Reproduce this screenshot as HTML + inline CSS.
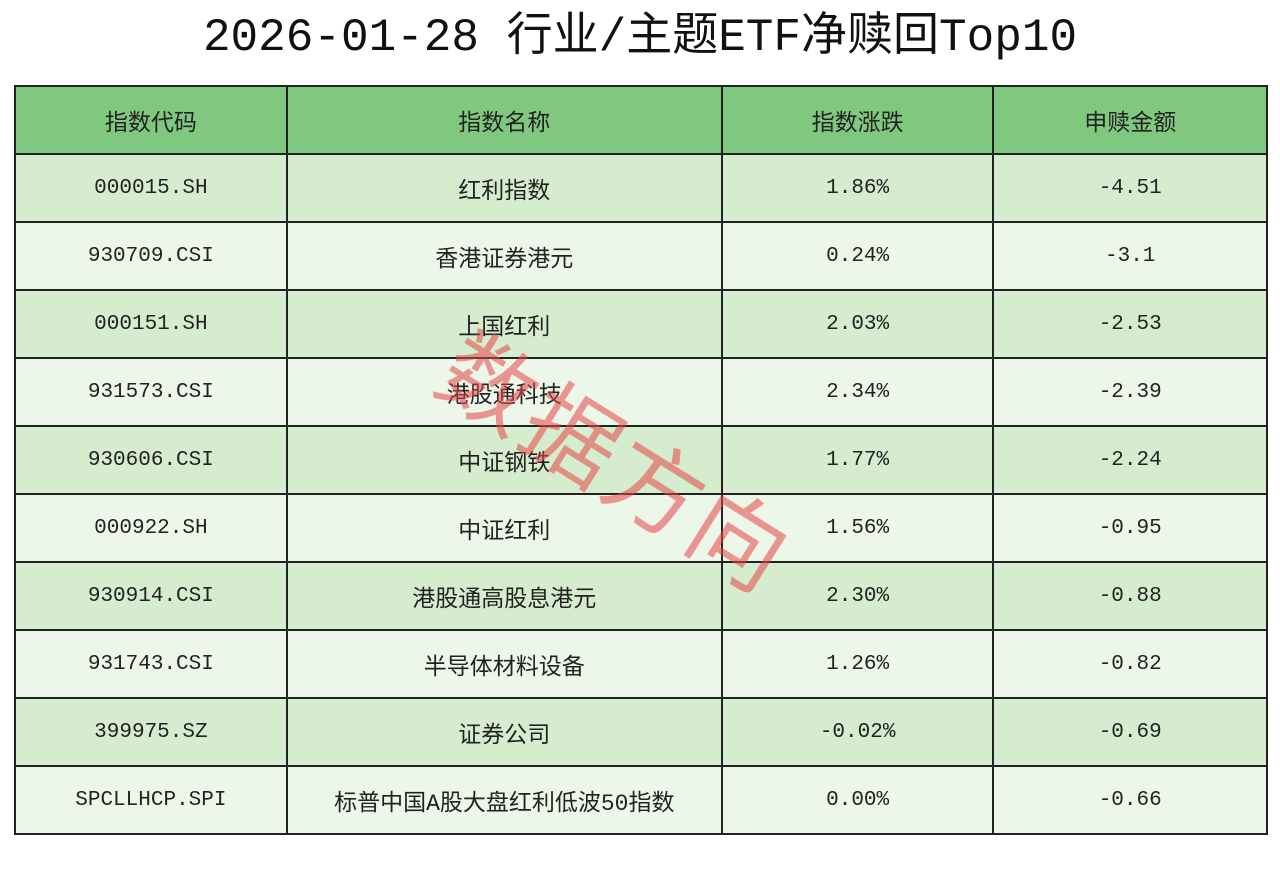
<!DOCTYPE html>
<html><head><meta charset="utf-8">
<style>
body{margin:0;width:1280px;height:895px;background:#fff;font-family:"Liberation Mono","Noto Sans CJK SC",monospace;position:relative;overflow:hidden}
h1{position:absolute;top:8px;left:0;width:1280px;margin:0;text-align:center;font-size:46px;font-weight:400;color:#111;line-height:60px;font-family:"Liberation Mono","Noto Sans CJK SC",monospace}
table{position:absolute;left:14px;top:85px;border-collapse:collapse;width:1254px}
td,th{border:2px solid #222;height:66px;text-align:center;font-size:21px;color:#222;font-weight:400;padding:0}
th{background:#80c880;font-size:23px;font-family:"Noto Sans CJK SC",sans-serif}
td:nth-child(2){font-size:23px;font-family:"Liberation Mono","Noto Sans CJK SC",monospace}
tr.o td{background:#d6eccf}
tr.e td{background:#edf7e9}
.wm{position:absolute;left:452px;top:285px;transform:rotate(32deg);transform-origin:left center;font-size:95px;font-family:"Noto Sans CJK SC",sans-serif;color:rgba(230,70,70,0.55);letter-spacing:3px;white-space:nowrap;pointer-events:none}
</style></head><body>
<h1>2026-01-28 行业/主题ETF净赎回Top10</h1>
<table>
<colgroup><col style="width:272px"><col style="width:436px"><col style="width:272px"><col style="width:274px"></colgroup>
<tr><th>指数代码</th><th>指数名称</th><th>指数涨跌</th><th>申赎金额</th></tr>
<tr class="o"><td>000015.SH</td><td>红利指数</td><td>1.86%</td><td>-4.51</td></tr>
<tr class="e"><td>930709.CSI</td><td>香港证券港元</td><td>0.24%</td><td>-3.1</td></tr>
<tr class="o"><td>000151.SH</td><td>上国红利</td><td>2.03%</td><td>-2.53</td></tr>
<tr class="e"><td>931573.CSI</td><td>港股通科技</td><td>2.34%</td><td>-2.39</td></tr>
<tr class="o"><td>930606.CSI</td><td>中证钢铁</td><td>1.77%</td><td>-2.24</td></tr>
<tr class="e"><td>000922.SH</td><td>中证红利</td><td>1.56%</td><td>-0.95</td></tr>
<tr class="o"><td>930914.CSI</td><td>港股通高股息港元</td><td>2.30%</td><td>-0.88</td></tr>
<tr class="e"><td>931743.CSI</td><td>半导体材料设备</td><td>1.26%</td><td>-0.82</td></tr>
<tr class="o"><td>399975.SZ</td><td>证券公司</td><td>-0.02%</td><td>-0.69</td></tr>
<tr class="e"><td>SPCLLHCP.SPI</td><td>标普中国A股大盘红利低波50指数</td><td>0.00%</td><td>-0.66</td></tr>
</table>
<div class="wm">数据方向</div>
</body></html>
